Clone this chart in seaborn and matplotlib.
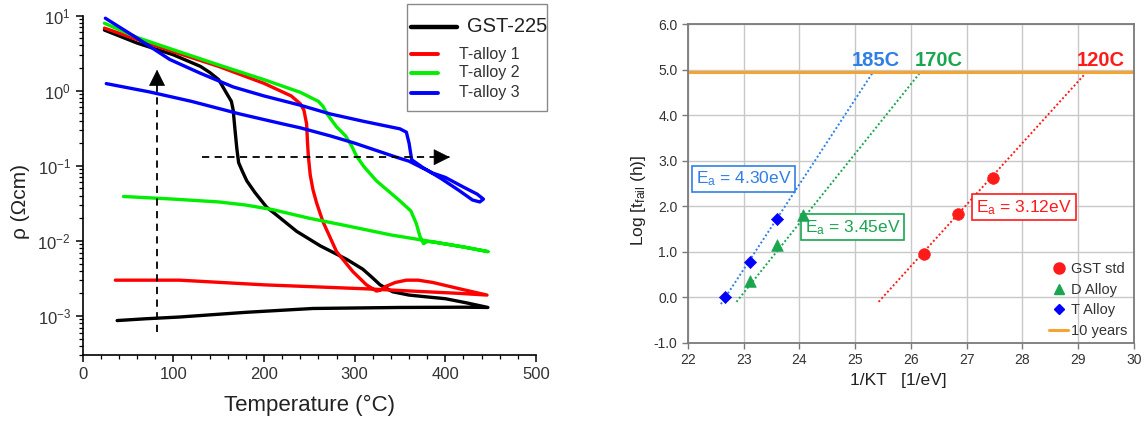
import numpy as np
import pandas as pd
import matplotlib
matplotlib.use("Agg")
import matplotlib.pyplot as plt
import matplotlib.ticker as mticker
from matplotlib.lines import Line2D
from matplotlib.patches import Rectangle
import seaborn as sns

# ---------------- Left panel data: resistivity vs temperature (heating + cooling path) -----
gst_T = [24, 60, 100, 130, 140, 150, 159, 164, 166, 168, 170, 172, 176, 181, 190, 203, 214,
         236, 262, 291, 309, 320, 328, 336, 342, 360, 379, 400, 423, 447,
         420, 350, 254, 180, 107, 70, 38]
gst_rho = [6.4, 4.3, 3.0, 2.1, 1.75, 1.4, 0.91, 0.72, 0.55, 0.3, 0.17, 0.11, 0.085, 0.063, 0.044, 0.028, 0.022,
           0.0134, 0.0086, 0.0057, 0.0042, 0.0032, 0.0026, 0.0023, 0.0021, 0.0019, 0.0018, 0.0017, 0.0015, 0.0013,
           0.00131, 0.0013, 0.00126, 0.00112, 0.00097, 0.00092, 0.00087]

t1_T = [24, 60, 100, 150, 200, 230, 240, 244, 247, 248, 249, 251, 254, 258, 265, 280, 298, 313, 320, 324,
        328, 335, 345, 357, 370, 386, 416, 446,
        416, 313, 200, 107, 36]
t1_rho = [6.8, 4.8, 3.3, 2.1, 1.25, 0.85, 0.67, 0.55, 0.36, 0.2, 0.13, 0.075, 0.048, 0.032, 0.018, 0.0072, 0.0039, 0.0026, 0.0023, 0.00215,
          0.0022, 0.0025, 0.0028, 0.0030, 0.0030, 0.0028, 0.0023, 0.0019,
          0.0020, 0.0023, 0.0026, 0.0030, 0.0030]

t2_T = [24, 60, 100, 150, 200, 240, 260, 265, 270, 280, 290, 297, 302, 310, 324, 350, 362, 368, 372, 376,
        380, 386, 420, 447,
        420, 380, 340, 290, 250, 210, 180, 150, 100, 45]
t2_rho = [7.9, 5.1, 3.5, 2.2, 1.4, 0.95, 0.72, 0.62, 0.48, 0.33, 0.25, 0.18, 0.135, 0.098, 0.063, 0.034, 0.025, 0.017, 0.0115, 0.0092,
          0.0098, 0.0097, 0.0083, 0.0072,
          0.0083, 0.0100, 0.0120, 0.0160, 0.0200, 0.0260, 0.0300, 0.0330, 0.0360, 0.0390]

t3_T = [25, 60, 96, 130, 166, 200, 240, 273, 310, 350, 357, 360, 362, 363, 375, 395, 415, 430, 438, 442,
        435, 420, 400, 386, 360, 346, 300, 273, 240, 221, 173, 120, 74, 26]
t3_rho = [9.2, 5.0, 2.6, 1.7, 1.12, 0.85, 0.64, 0.49, 0.39, 0.31, 0.28, 0.2, 0.14, 0.12, 0.095, 0.068, 0.047, 0.035, 0.033, 0.036,
          0.042, 0.052, 0.070, 0.080, 0.115, 0.13, 0.20, 0.25, 0.32, 0.36, 0.49, 0.72, 0.96, 1.24]

left_series = ["GST-225", "T-alloy 1", "T-alloy 2", "T-alloy 3"]
left_colors = ["#000000", "#ff0000", "#00ee00", "#0000ff"]

# arrows (data coordinates)
varrow_x = [82, 82]
varrow_y = [6.1e-4, 1.9]
harrow_x = [132, 405]
harrow_y = [0.13, 0.13]

# ---------------- Right panel data: Arrhenius plot ----------------
gst_x = [26.24, 26.84, 27.48]
gst_y = [0.95, 1.84, 2.63]
d_x = [23.12, 23.59, 24.07]
d_y = [0.36, 1.14, 1.81]
t_x = [22.67, 23.12, 23.59]
t_y = [0.0, 0.77, 1.72]

fit_t_x = [22.59, 25.31]
fit_t_y = [-0.15, 4.93]
fit_d_x = [22.87, 26.16]
fit_d_y = [-0.10, 4.93]
fit_g_x = [25.42, 29.16]
fit_g_y = [-0.10, 4.96]

ten_years = 4.94
right_series = ["GST std", "D Alloy", "T Alloy"]
c_red, c_green, c_blue = "#ff1a1a", "#1aa650", "#0000ff"
c_lblue, c_orange = "#2f7fe6", "#f5a431"

# ---------------- Figure ----------------
sns.set_theme(style="white")
plt.rcParams["font.family"] = ["Liberation Sans", "DejaVu Sans"]
plt.rcParams["mathtext.fontset"] = "custom"
plt.rcParams["mathtext.rm"] = "Liberation Sans"
plt.rcParams["mathtext.it"] = "Liberation Sans"

W, H = 1147, 425
fig = plt.figure(figsize=(W / 100, H / 100), dpi=100)
axL = fig.add_axes([0.0721, 0.164, 0.3952, 0.7995])
axR = fig.add_axes([0.5998, 0.1934, 0.3888, 0.7496])

# ---- left ----
frames = []
for name, T, r in zip(left_series, [gst_T, t1_T, t2_T, t3_T], [gst_rho, t1_rho, t2_rho, t3_rho]):
    frames.append(pd.DataFrame({"T": T, "rho": r, "sample": name}))
dfL = pd.concat(frames, ignore_index=True)
for name, col in zip(left_series, left_colors):
    sub = dfL[dfL["sample"] == name]
    sns.lineplot(data=sub, x="T", y="rho", sort=False, estimator=None, color=col,
                 lw=2.4, ax=axL, legend=False, solid_joinstyle="round", solid_capstyle="round")

axL.set_yscale("log")
axL.set_xlim(0, 500)
axL.set_ylim(3e-4, 10)
axL.xaxis.set_major_locator(mticker.MultipleLocator(100))
axL.xaxis.set_minor_locator(mticker.MultipleLocator(20))
axL.yaxis.set_major_locator(mticker.LogLocator(base=10, numticks=10))
axL.yaxis.set_minor_locator(mticker.LogLocator(base=10, subs=np.arange(2, 10), numticks=20))
axL.yaxis.set_minor_formatter(mticker.NullFormatter())
for s in ["top", "right"]:
    axL.spines[s].set_visible(False)
for s in ["left", "bottom"]:
    axL.spines[s].set_color("black")
    axL.spines[s].set_linewidth(1.2)
axL.tick_params(which="major", direction="out", length=5, width=1.1, color="black",
                labelsize=12, labelcolor="#333333", left=True, bottom=True)
axL.tick_params(which="minor", direction="out", length=3, width=0.9, color="black", left=True, bottom=True)
axL.set_xlabel("Temperature (°C)", fontsize=16, color="#222222", labelpad=9)
axL.set_ylabel("ρ (Ωcm)", fontsize=15, color="#222222")
axL.yaxis.set_label_coords(-0.116, 0.454)

# dashed arrows
axL.plot(varrow_x, varrow_y, ls=(0, (4, 3)), color="black", lw=1.3)
axL.annotate("", xy=(varrow_x[1], varrow_y[1]), xytext=(varrow_x[1], varrow_y[1] * 0.72),
             arrowprops=dict(arrowstyle="-|>,head_length=0.9,head_width=0.45", color="black",
                             lw=0.5, shrinkA=0, shrinkB=0))
axL.plot(harrow_x, harrow_y, ls=(0, (4, 3)), color="black", lw=1.3)
axL.annotate("", xy=(harrow_x[1], harrow_y[1]), xytext=(harrow_x[1] - 16, harrow_y[1]),
             arrowprops=dict(arrowstyle="-|>,head_length=0.9,head_width=0.45", color="black",
                             lw=0.5, shrinkA=0, shrinkB=0))

# manual legend box for the left panel (pixel layout)
def fx(x):
    return x / W

def fy(y):
    return 1 - y / H

fig.add_artist(Rectangle((fx(407), fy(111)), fx(547) - fx(407), fy(4) - fy(111),
                         transform=fig.transFigure, fc="white", ec="#8a8a8a", lw=1.0, zorder=10))
leg_rows = [27, 54, 73, 93]
leg_handle_end = [457, 438, 438, 438]
leg_text_x = [467, 459, 459, 459]
leg_fs = [14.5, 11.5, 11.5, 11.5]
leg_lw = [3.2, 2.8, 2.8, 2.8]
for name, col, yy, xe, tx, fs, lw in zip(left_series, left_colors, leg_rows, leg_handle_end,
                                          leg_text_x, leg_fs, leg_lw):
    fig.add_artist(Line2D([fx(411), fx(xe)], [fy(yy), fy(yy)], transform=fig.transFigure,
                          color=col, lw=lw, solid_capstyle="round", zorder=11))
    fig.text(fx(tx), fy(yy), name, fontsize=fs, color="#333333" if fs < 14 else "#222222",
             ha="left", va="center", zorder=11)

# ---- right ----
dfR = pd.DataFrame({
    "x": gst_x + d_x + t_x,
    "y": gst_y + d_y + t_y,
    "alloy": [right_series[0]] * len(gst_x) + [right_series[1]] * len(d_x) + [right_series[2]] * len(t_x),
})
for fxs, fys, col in [(fit_t_x, fit_t_y, c_lblue), (fit_d_x, fit_d_y, c_green), (fit_g_x, fit_g_y, c_red)]:
    sns.lineplot(x=fxs, y=fys, ax=axR, color=col, lw=1.4, ls=(0, (1, 1.2)), sort=False, estimator=None)
sns.lineplot(x=[22, 30], y=[ten_years, ten_years], ax=axR, color=c_orange, lw=2.2, estimator=None)

pal = {"GST std": c_red, "D Alloy": c_green, "T Alloy": c_blue}
mk = {"GST std": "o", "D Alloy": "^", "T Alloy": "D"}
msz = {"GST std": 70, "D Alloy": 70, "T Alloy": 38}
for name in right_series:
    sub = dfR[dfR["alloy"] == name]
    sns.scatterplot(data=sub, x="x", y="y", ax=axR, color=pal[name], marker=mk[name],
                    s=msz[name], edgecolor=pal[name], linewidth=0.5, zorder=5, legend=False)

axR.set_xlim(22, 30)
axR.set_ylim(-1, 6)
axR.xaxis.set_major_locator(mticker.MultipleLocator(1))
axR.yaxis.set_major_locator(mticker.MultipleLocator(1))
axR.yaxis.set_major_formatter(mticker.FormatStrFormatter("%.1f"))
axR.grid(True, color="#c8c8c8", lw=1.0)
axR.set_axisbelow(True)
for s in axR.spines.values():
    s.set_color("#7a7a7a")
    s.set_linewidth(1.3)
axR.tick_params(direction="out", length=4, width=1.0, color="#7a7a7a", labelsize=10,
                labelcolor="#333333", left=True, bottom=True)
axR.set_xlabel("1/KT   [1/eV]", fontsize=12.5, color="#222222")
axR.xaxis.set_label_coords(0.471, -0.095)
axR.set_ylabel(r"Log [t$_{fail}$ (h)]", fontsize=12.5, color="#222222")
axR.yaxis.set_label_coords(-0.09, 0.448)

# temperature labels
axR.text(25.37, 5.2, "185C", color=c_lblue, fontsize=14.5, fontweight="bold", ha="center", va="center")
axR.text(26.5, 5.2, "170C", color=c_green, fontsize=14.5, fontweight="bold", ha="center", va="center")
axR.text(29.4, 5.2, "120C", color=c_red, fontsize=14.5, fontweight="bold", ha="center", va="center")

# activation energy boxes
for (bx, by, txt, col) in [(23.0, 2.6, r"E$_a$ = 4.30eV", c_lblue),
                           (24.95, 1.54, r"E$_a$ = 3.45eV", c_green),
                           (28.03, 1.98, r"E$_a$ = 3.12eV", c_red)]:
    axR.text(bx, by, txt, color=col, fontsize=12.5, ha="center", va="center",
             bbox=dict(boxstyle="square,pad=0.22", fc="white", ec=col, lw=1.2))

handles = [
    Line2D([], [], ls="none", marker="o", color=c_red, markersize=8),
    Line2D([], [], ls="none", marker="^", color=c_green, markersize=7),
    Line2D([], [], ls="none", marker="D", color=c_blue, markersize=5),
    Line2D([], [], color=c_orange, lw=2.2),
]
legR = axR.legend(handles, ["GST std", "D Alloy", "T Alloy", "10 years"], loc="lower right",
                  bbox_to_anchor=(1.0, -0.005), frameon=False, fontsize=10.5, handlelength=1.3,
                  handletextpad=0.2, labelspacing=0.45, borderaxespad=0.05)
for t in legR.get_texts():
    t.set_color("#333333")

fig.savefig("out.png", dpi=100)
